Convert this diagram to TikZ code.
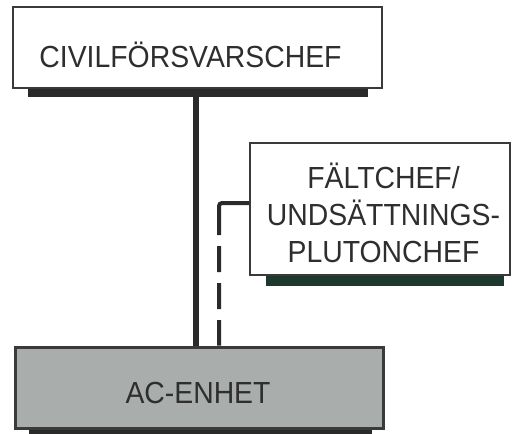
\documentclass[tikz,border=0pt]{standalone}
\usepackage{graphicx}
\usepackage{fontspec}
\setmainfont{Liberation Sans}
\usetikzlibrary{positioning}
\definecolor{framegray}{HTML}{3A3A3A}
\definecolor{shadowgray}{HTML}{2A2A2A}
\definecolor{shadowgreen}{HTML}{1F382D}
\definecolor{unitgray}{HTML}{A9ADAB}
\definecolor{textgray}{HTML}{2E2E2E}
\newcommand{\narrowtext}[1]{\scalebox{0.93}[1]{#1}}
\begin{document}
\begin{tikzpicture}[x=1pt,y=-1pt,
    chefbox/.style={draw=framegray, line width=1.6pt, fill=white, rectangle, inner sep=0pt},
    unitbox/.style={draw=framegray, line width=3pt, fill=unitgray, rectangle, inner sep=0pt},
    chefname/.style={text=textgray, align=center, inner sep=0pt,
      font=\fontsize{30.5}{37}\selectfont},
    command/.style={draw=shadowgray, line width=6pt},
    support/.style={draw=shadowgray, line width=4pt, rounded corners=3pt,
      dash pattern=on 61pt off 11pt on 26pt off 11pt on 26pt off 11pt}]
  \useasboundingbox (0,0) rectangle (513,433);
  % boxes
  \node (cfc) [chefbox, minimum width=369pt, minimum height=81pt] at (197.5,47.5) {};
  \node (fc) [chefbox, minimum width=260pt, minimum height=132pt] at (380,209) {};
  \node (ac) [unitbox, minimum width=368pt, minimum height=81pt] at (199,387.5) {};
  % shadows
  \fill[shadowgray] ([xshift=16pt]cfc.south west) rectangle ([xshift=-15pt,yshift=-8pt]cfc.south east);
  \fill[shadowgreen] ([xshift=17pt]fc.south west) rectangle ([xshift=-7pt,yshift=-10pt]fc.south east);
  \fill[shadowgray] ([xshift=15pt]ac.south west) rectangle ([xshift=-13pt,yshift=-4pt]ac.south east);
  % texts
  \node (cfc-text) [chefname] at (190.5,55) {\narrowtext{CIVILFÖRSVARSCHEF}};
  \node (fc-text) [chefname] at (383.5,212.5)
    {\narrowtext{FÄLTCHEF/}\\\narrowtext{UNDSÄTTNINGS-}\\\narrowtext{PLUTONCHEF}};
  \node (ac-text) [chefname] at (198,393) {\narrowtext{AC-ENHET}};
  % connectors
  \draw[command] ([xshift=-1.5pt,yshift=-8pt]cfc.south) -- ([xshift=-1.5pt]cfc.south |- ac.north);
  \draw[support] ([yshift=6pt]fc.west) -| ([xshift=20pt]ac.north);
\end{tikzpicture}
\end{document}
